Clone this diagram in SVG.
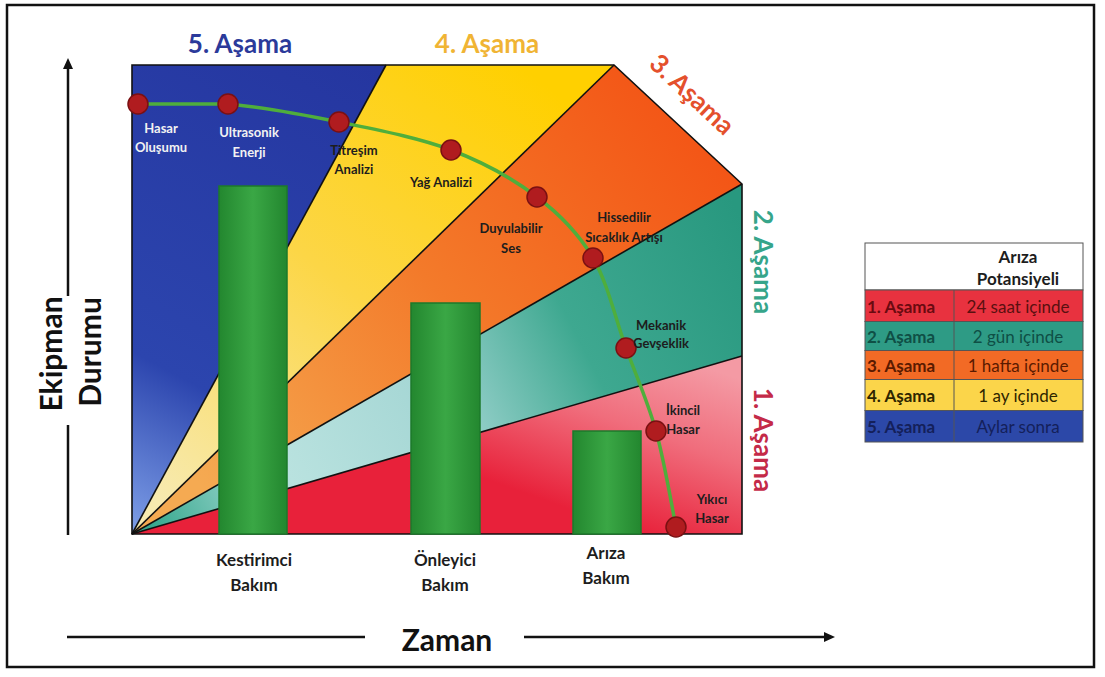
<svg xmlns="http://www.w3.org/2000/svg" width="1105" height="677" viewBox="0 0 1105 677">
<defs>
<style>
.lbl{font-family:Lato,"Open Sans","Liberation Sans",sans-serif;font-weight:700;font-size:13px;text-anchor:middle;fill:#1d1d1d}
.lblw{fill:#f2f2f2}
.stage{font-family:Lato,"Open Sans","Liberation Sans",sans-serif;font-weight:700;font-size:26px;text-anchor:middle}
.bar{stroke:#1d7a2b;stroke-width:1.5;fill:url(#gBar)}
.barlbl{font-family:Lato,"Open Sans","Liberation Sans",sans-serif;font-weight:700;font-size:17px;text-anchor:middle;fill:#1d1d1d}
.axis{font-family:Lato,"Open Sans","Liberation Sans",sans-serif;font-weight:700;font-size:30px;text-anchor:middle;fill:#111}
.dot{fill:#b01c1f;stroke:#7a1012;stroke-width:1.5}
.sep{stroke:#111;stroke-width:1.6;fill:none}
.ax{stroke:#111;stroke-width:2.5;fill:none}
.tb{font-family:Lato,"Open Sans","Liberation Sans",sans-serif;font-size:17px}
.tbb{font-weight:700}
.cell{stroke:#555;stroke-width:1}
</style>
<marker id="arr" markerUnits="userSpaceOnUse" markerWidth="12" markerHeight="10" refX="2" refY="5" orient="auto">
<path d="M0,0 L11,5 L0,10 z" fill="#111"/>
</marker>
<linearGradient id="gBlue" gradientUnits="userSpaceOnUse" x1="380" y1="70" x2="135" y2="530">
<stop offset="0" stop-color="#2536a0"/><stop offset="0.7" stop-color="#2c45ae"/><stop offset="1" stop-color="#7c9de6"/>
</linearGradient>
<linearGradient id="gYellow" gradientUnits="userSpaceOnUse" x1="520" y1="65" x2="170" y2="510">
<stop offset="0" stop-color="#ffd000"/><stop offset="0.5" stop-color="#fcd646"/><stop offset="1" stop-color="#f7eab0"/>
</linearGradient>
<linearGradient id="gOrange" gradientUnits="userSpaceOnUse" x1="700" y1="130" x2="220" y2="510">
<stop offset="0" stop-color="#f35516"/><stop offset="0.5" stop-color="#f37a2a"/><stop offset="1" stop-color="#f5aa52"/>
</linearGradient>
<linearGradient id="gTeal" gradientUnits="userSpaceOnUse" x1="742" y1="220" x2="150" y2="525">
<stop offset="0" stop-color="#28987f"/><stop offset="0.3" stop-color="#3ea890"/><stop offset="0.55" stop-color="#a6d7d5"/><stop offset="0.78" stop-color="#b9e2df"/><stop offset="1" stop-color="#36a88e"/>
</linearGradient>
<linearGradient id="gRed" gradientUnits="userSpaceOnUse" x1="700" y1="365" x2="640" y2="534">
<stop offset="0" stop-color="#f49aa4"/><stop offset="0.45" stop-color="#f06d7c"/><stop offset="1" stop-color="#e8213a"/>
</linearGradient>
<linearGradient id="gBar" x1="0" y1="0" x2="1" y2="0">
<stop offset="0" stop-color="#23872f"/><stop offset="0.5" stop-color="#3aa745"/><stop offset="1" stop-color="#23872f"/>
</linearGradient>
</defs>

<rect x="7" y="5" width="1087" height="662" fill="#fff" stroke="#111" stroke-width="2.5"/>

<g id="chart">
<polygon points="132,534 132,65 386,65" fill="url(#gBlue)"/>
<polygon points="132,534 386,65 614,65" fill="url(#gYellow)"/>
<polygon points="132,534 614,65 742,184" fill="url(#gOrange)"/>
<polygon points="132,534 742,184 742,356" fill="url(#gTeal)"/>
<polygon points="132,534 742,356 742,534" fill="url(#gRed)"/>
<line class="sep" x1="132" y1="534" x2="386" y2="65"/>
<line class="sep" x1="132" y1="534" x2="614" y2="65"/>
<line class="sep" x1="132" y1="534" x2="742" y2="184"/>
<line class="sep" x1="132" y1="534" x2="742" y2="356"/>
<polygon class="sep" points="132,534 132,65 614,65 742,184 742,534"/>
</g>

<g id="stage-labels">
<text class="stage" x="240" y="53" fill="#2b3a9a">5. Aşama</text>
<text class="stage" x="487" y="53" fill="#f0b434">4. Aşama</text>
<text class="stage" transform="translate(686,101) rotate(43)" fill="#e4502c">3. Aşama</text>
<text class="stage" transform="translate(754,262) rotate(90)" fill="#36a58a">2. Aşama</text>
<text class="stage" transform="translate(754,440) rotate(90)" fill="#c42a48">1. Aşama</text>
</g>

<g id="bar-kestirimci">
<rect class="bar" x="219" y="186" width="68" height="348"/>
<text class="barlbl" x="254" y="566">Kestirimci</text>
<text class="barlbl" x="254" y="591">Bakım</text>
</g>
<g id="bar-onleyici">
<rect class="bar" x="411" y="303" width="69" height="231"/>
<text class="barlbl" x="445" y="566">Önleyici</text>
<text class="barlbl" x="445" y="591">Bakım</text>
</g>
<g id="bar-ariza">
<rect class="bar" x="573" y="431" width="68" height="103"/>
<text class="barlbl" x="606" y="559">Arıza</text>
<text class="barlbl" x="606" y="584">Bakım</text>
</g>

<g id="connectors">
<path d="M138,104 L228,104 C261.5,107 301.8,114.3 339,122 C376.2,129.7 418,137.5 451,150 C484,162.5 513.3,179 537,197 C560.7,215 578.2,232.8 593,258 C607.8,283.2 615.5,319.2 626,348 C636.5,376.8 647.7,401.2 656,431 C664.3,460.8 672.7,511 676,527" fill="none" stroke="#4fae3c" stroke-width="3.5"/>
<line class="ax" x1="68" y1="296" x2="68" y2="67" marker-end="url(#arr)"/>
<line class="ax" x1="68" y1="425" x2="68" y2="535"/>
<line class="ax" x1="67" y1="637" x2="365" y2="637"/>
<line class="ax" x1="524" y1="637" x2="826" y2="637" marker-end="url(#arr)"/>
</g>

<g id="m-hasar-olusumu">
<circle class="dot" cx="138" cy="104" r="10"/>
<text class="lbl lblw" x="161" y="133">Hasar</text>
<text class="lbl lblw" x="161" y="152">Oluşumu</text>
</g>
<g id="m-ultrasonik">
<circle class="dot" cx="228" cy="104" r="10"/>
<text class="lbl lblw" x="249" y="137">Ultrasonik</text>
<text class="lbl lblw" x="249" y="157">Enerji</text>
</g>
<g id="m-titresim">
<circle class="dot" cx="339" cy="122" r="10"/>
<text class="lbl" x="354" y="155">Titreşim</text>
<text class="lbl" x="354" y="174">Analizi</text>
</g>
<g id="m-yag">
<circle class="dot" cx="451" cy="150" r="10"/>
<text class="lbl" x="441" y="187">Yağ Analizi</text>
</g>
<g id="m-duyulabilir">
<circle class="dot" cx="537" cy="197" r="10"/>
<text class="lbl" x="511" y="233">Duyulabilir</text>
<text class="lbl" x="511" y="253">Ses</text>
</g>
<g id="m-hissedilir">
<circle class="dot" cx="593" cy="258" r="10"/>
<text class="lbl" x="624" y="222">Hissedilir</text>
<text class="lbl" x="624" y="242">Sıcaklık Artışı</text>
</g>
<g id="m-mekanik">
<circle class="dot" cx="626" cy="348" r="10"/>
<text class="lbl" x="661" y="330">Mekanik</text>
<text class="lbl" x="661" y="348">Gevşeklik</text>
</g>
<g id="m-ikincil">
<circle class="dot" cx="656" cy="431" r="10"/>
<text class="lbl" x="683" y="415">İkincil</text>
<text class="lbl" x="683" y="434">Hasar</text>
</g>
<g id="m-yikici">
<circle class="dot" cx="676" cy="527" r="10"/>
<text class="lbl" x="712" y="504">Yıkıcı</text>
<text class="lbl" x="712" y="523">Hasar</text>
</g>

<g id="axis-labels">
<text class="axis" transform="translate(62,354) rotate(-90)">Ekipman</text>
<text class="axis" transform="translate(101,352) rotate(-90)">Durumu</text>
<text class="axis" x="447" y="651">Zaman</text>
</g>

<g id="table">
<rect class="cell" x="865" y="243" width="218" height="47" fill="#fff"/>
<rect class="cell" x="865" y="290" width="218" height="31.5" fill="#e8323f"/>
<rect class="cell" x="865" y="321.5" width="218" height="29" fill="#2e9b85"/>
<rect class="cell" x="865" y="350.5" width="218" height="29" fill="#f26a25"/>
<rect class="cell" x="865" y="379.5" width="218" height="31" fill="#fbd54a"/>
<rect class="cell" x="865" y="410.5" width="218" height="31.5" fill="#2c48a8"/>
<line class="cell" x1="954" y1="290" x2="954" y2="442"/>
<text class="tb tbb" x="1018" y="263" text-anchor="middle" fill="#1d1d1d" font-size="15">Arıza</text>
<text class="tb tbb" x="1018" y="285" text-anchor="middle" fill="#1d1d1d" font-size="15">Potansiyeli</text>
<text class="tb tbb" x="867" y="313" fill="#6a0a10">1. Aşama</text>
<text class="tb" x="1018" y="313" text-anchor="middle" fill="#5a1010">24 saat içinde</text>
<text class="tb tbb" x="867" y="343" fill="#0f4f45">2. Aşama</text>
<text class="tb" x="1018" y="343" text-anchor="middle" fill="#0f4f45">2 gün içinde</text>
<text class="tb tbb" x="867" y="372" fill="#5a1a00">3. Aşama</text>
<text class="tb" x="1018" y="372" text-anchor="middle" fill="#5a1a00">1 hafta içinde</text>
<text class="tb tbb" x="867" y="402" fill="#2e2500">4. Aşama</text>
<text class="tb" x="1018" y="402" text-anchor="middle" fill="#2e2500">1 ay içinde</text>
<text class="tb tbb" x="867" y="433" fill="#14205a">5. Aşama</text>
<text class="tb" x="1018" y="433" text-anchor="middle" fill="#14205a">Aylar sonra</text>
</g>
</svg>
